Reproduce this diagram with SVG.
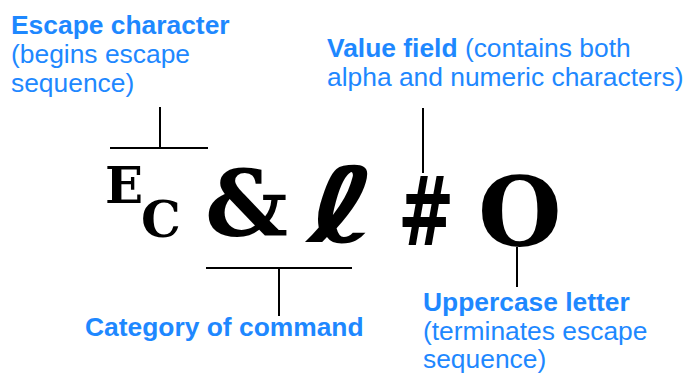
<svg xmlns="http://www.w3.org/2000/svg" width="688" height="373" viewBox="0 0 688 373">
<style>
.lbl{font-family:"Liberation Sans",Arial,sans-serif;font-size:26.4px;fill:#1E88FF}
.b{font-weight:bold}
.g{font-family:"DejaVu Serif",serif;font-weight:bold;fill:#000}
.ln{stroke:#000;stroke-width:2;fill:none}
</style>
<rect width="688" height="373" fill="#fff"/>
<g id="connectors">
<path class="ln" d="M160,107V148M110,148H208"/>
<path class="ln" d="M206,268H352M279,268V316"/>
<path class="ln" d="M423,108V173"/>
<path class="ln" d="M517,247V287"/>
</g>
<g id="escape">
<text class="g" x="105" y="203" font-size="50">E</text>
<text class="g" x="141" y="237" font-size="50">C</text>
</g>
<g id="ampersand"><text class="g" x="205" y="236" font-size="92">&amp;</text></g>
<g id="ell"><text transform="translate(307,242) scale(1.5,1.04)" x="0" y="0" font-size="100" font-family="DejaVu Sans,sans-serif" font-style="oblique" font-weight="bold">ℓ</text></g>
<g id="hash"><text class="g" transform="translate(398,245) scale(0.7,1)" x="0" y="0" font-size="96" font-style="italic">#</text></g>
<g id="letterO"><text class="g" x="478" y="246" font-size="96">O</text></g>
<g id="label-escape">
<text class="lbl b" x="11" y="34">Escape character</text>
<text class="lbl" x="11" y="63">(begins escape</text>
<text class="lbl" x="11" y="92">sequence)</text>
</g>
<g id="label-value">
<text class="lbl" x="327" y="57"><tspan class="b">Value field</tspan> (contains both</text>
<text class="lbl" x="327" y="86">alpha and numeric characters)</text>
</g>
<g id="label-category">
<text class="lbl b" x="85" y="336">Category of command</text>
</g>
<g id="label-upper">
<text class="lbl b" x="423" y="311">Uppercase letter</text>
<text class="lbl" x="423" y="340">(terminates escape</text>
<text class="lbl" x="423" y="368">sequence)</text>
</g>
</svg>
